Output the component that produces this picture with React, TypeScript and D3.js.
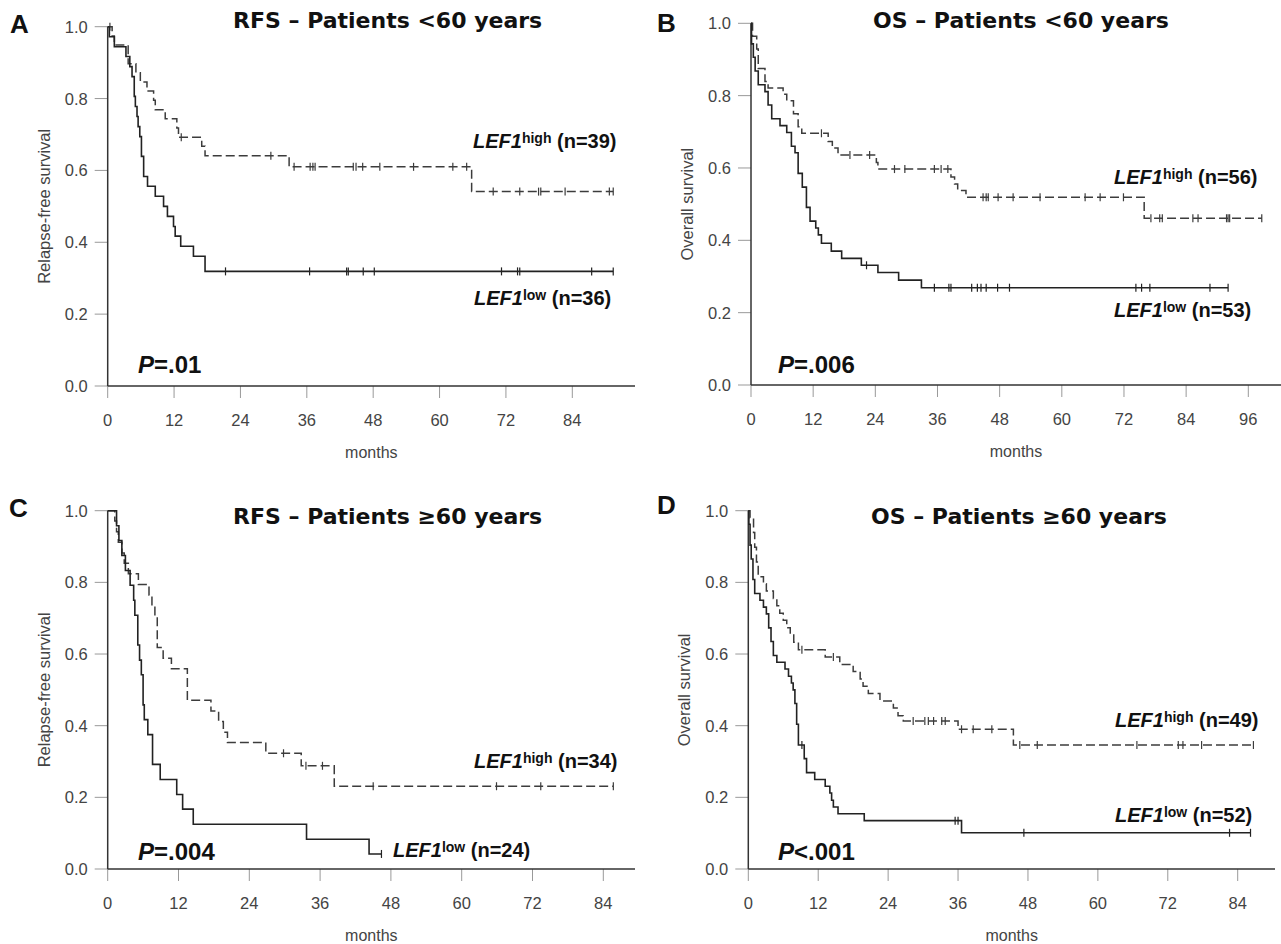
import React, { useEffect, useRef } from 'react';
import * as d3 from 'd3';

// axis ticks
const yTicks = [0, 0.2, 0.4, 0.6, 0.8, 1.0];
const xTicks84 = [0, 12, 24, 36, 48, 60, 72, 84];
const xTicks96 = [0, 12, 24, 36, 48, 60, 72, 84, 96];

// A - RFS, patients <60 years
const aHighTimes = [0.8, 1.2, 3.7, 5.1, 5.9, 7.1, 8.3, 8.6, 10.4, 12.5, 12.8, 17.0, 17.6, 32.8, 65.8];
const aHighSurv = [0.974, 0.949, 0.897, 0.872, 0.846, 0.821, 0.795, 0.769, 0.744, 0.718, 0.692, 0.667, 0.641, 0.61, 0.541];
const aHighCens = [0.4, 13.3, 29.5, 33.7, 36.6, 37.1, 37.5, 44.4, 44.9, 46.1, 49.2, 55.3, 62.4, 64.9, 69.7, 74.5, 77.9, 78.3, 82.7, 90.7, 91.4];
const aLowTimes = [0.3, 1.2, 3.3, 4.0, 4.4, 4.8, 5.0, 5.3, 5.5, 5.8, 6.1, 6.5, 7.2, 8.6, 10.1, 10.8, 11.9, 12.2, 13.2, 15.5, 17.6];
const aLowSurv = [0.972, 0.944, 0.917, 0.889, 0.861, 0.806, 0.778, 0.75, 0.722, 0.694, 0.639, 0.583, 0.556, 0.528, 0.5, 0.472, 0.444, 0.417, 0.389, 0.361, 0.319];
const aLowCens = [21.3, 36.5, 43.2, 43.5, 46.2, 48.2, 71.2, 74.1, 74.5, 87.5, 91.4];

// B - OS, patients <60 years
const bHighTimes = [0.3, 1.1, 1.4, 2.7, 3.3, 6.2, 6.9, 8.2, 9.1, 9.8, 14.9, 15.7, 16.8, 24.2, 24.5, 38.6, 39.3, 39.9, 41.5, 75.9];
const bHighSurv = [0.964, 0.929, 0.875, 0.839, 0.821, 0.804, 0.786, 0.75, 0.714, 0.696, 0.673, 0.655, 0.636, 0.615, 0.597, 0.575, 0.556, 0.538, 0.519, 0.461];
const bHighCens = [13.6, 19.1, 22.9, 27.7, 29.7, 35.4, 36.7, 38.0, 44.8, 45.4, 45.8, 47.7, 50.6, 55.8, 64.5, 67.4, 71.9, 77.2, 78.9, 79.4, 85.3, 86.3, 91.8, 92.1, 92.4, 98.6];
const bLowTimes = [0.1, 0.45, 0.8, 1.4, 2.7, 3.3, 4.0, 5.6, 6.9, 7.8, 8.5, 9.1, 9.9, 10.7, 11.4, 12.5, 13.0, 13.6, 15.5, 17.5, 21.3, 24.5, 28.5, 32.9];
const bLowSurv = [0.943, 0.906, 0.868, 0.83, 0.811, 0.774, 0.736, 0.717, 0.698, 0.66, 0.642, 0.585, 0.547, 0.491, 0.453, 0.434, 0.415, 0.392, 0.37, 0.35, 0.331, 0.311, 0.29, 0.269];
const bLowCens = [22.3, 35.4, 38.2, 38.6, 42.6, 43.7, 44.4, 45.4, 47.6, 49.9, 74.3, 75.4, 77.0, 88.6, 92.1];

// C - RFS, patients >=60 years
const cHighTimes = [1.2, 1.5, 1.8, 2.4, 2.8, 3.5, 5.2, 7.0, 7.5, 8.0, 8.4, 9.4, 10.8, 13.5, 17.5, 18.8, 19.6, 20.3, 26.8, 32.8, 38.4];
const cHighSurv = [0.971, 0.941, 0.912, 0.882, 0.853, 0.824, 0.794, 0.765, 0.735, 0.706, 0.618, 0.588, 0.559, 0.471, 0.441, 0.412, 0.382, 0.353, 0.323, 0.288, 0.231];
const cHighCens = [29.8, 33.6, 36.4, 45.0, 65.9, 73.4, 85.7];
const cLowTimes = [1.5, 1.9, 2.4, 3.0, 3.8, 4.4, 4.6, 5.1, 5.4, 5.7, 6.0, 6.2, 6.8, 7.6, 8.9, 11.7, 12.7, 14.5, 33.7, 44.3];
const cLowSurv = [0.958, 0.917, 0.875, 0.833, 0.792, 0.75, 0.708, 0.625, 0.583, 0.542, 0.458, 0.417, 0.375, 0.292, 0.25, 0.208, 0.167, 0.125, 0.083, 0.042];
const cLowCens = [46.4];

// D - OS, patients >=60 years
const dHighTimes = [0.3, 0.9, 1.1, 1.4, 1.7, 2.6, 3.1, 4.3, 4.9, 5.4, 6.0, 6.6, 7.2, 7.8, 8.6, 13.2, 15.7, 18.0, 19.2, 19.7, 20.6, 22.6, 24.9, 25.7, 26.6, 36.0, 45.5];
const dHighSurv = [0.98, 0.939, 0.898, 0.857, 0.816, 0.796, 0.776, 0.755, 0.735, 0.714, 0.694, 0.673, 0.653, 0.633, 0.612, 0.592, 0.571, 0.551, 0.53, 0.51, 0.49, 0.469, 0.449, 0.428, 0.413, 0.39, 0.346];
const dHighCens = [9.2, 14.6, 28.3, 30.3, 30.9, 31.8, 33.2, 33.8, 36.6, 38.6, 41.8, 46.6, 49.6, 66.7, 73.8, 74.6, 77.8, 86.7];
const dLowTimes = [0.1, 0.3, 0.5, 0.8, 1.1, 2.0, 2.6, 3.1, 3.5, 3.9, 4.3, 4.9, 6.3, 6.9, 7.4, 7.7, 8.0, 8.3, 8.6, 9.6, 10.0, 11.4, 13.2, 14.0, 14.3, 14.6, 15.4, 19.9, 36.6];
const dLowSurv = [0.962, 0.904, 0.865, 0.808, 0.769, 0.75, 0.731, 0.712, 0.673, 0.635, 0.596, 0.577, 0.558, 0.538, 0.519, 0.5, 0.462, 0.404, 0.346, 0.308, 0.269, 0.25, 0.231, 0.212, 0.192, 0.173, 0.154, 0.135, 0.101];
const dLowCens = [9.2, 35.5, 36.0, 47.3, 82.6, 86.2];

const SANS = '"Liberation Sans", Arial, Helvetica, sans-serif';

const panels = [
  {
    letter: 'A', title: 'RFS \u2013 Patients <60 years', yLabel: 'Relapse-free survival', pText: '=.01',
    x0: 107.7, xLast: 572.3, axisEnd: 635, yTop: 26.7, yBot: 386, ticks: xTicks84,
    letterPos: [10, 33], titlePos: [233, 28], pPos: [138, 373],
    high: { times: aHighTimes, surv: aHighSurv, cens: aHighCens, n: 39, pos: [473, 148] },
    low: { times: aLowTimes, surv: aLowSurv, cens: aLowCens, n: 36, pos: [474, 305] },
  },
  {
    letter: 'B', title: 'OS \u2013 Patients <60 years', yLabel: 'Overall survival', pText: '=.006',
    x0: 751, xLast: 1248.3, axisEnd: 1281, yTop: 23.3, yBot: 385, ticks: xTicks96,
    letterPos: [657, 32], titlePos: [873, 28], pPos: [778, 373],
    high: { times: bHighTimes, surv: bHighSurv, cens: bHighCens, n: 56, pos: [1114, 184] },
    low: { times: bLowTimes, surv: bLowSurv, cens: bLowCens, n: 53, pos: [1114, 317] },
  },
  {
    letter: 'C', title: 'RFS \u2013 Patients \u226560 years', yLabel: 'Relapse-free survival', pText: '=.004',
    x0: 107.7, xLast: 603.3, axisEnd: 635, yTop: 510.7, yBot: 869, ticks: xTicks84,
    letterPos: [9, 517], titlePos: [233, 524], pPos: [138, 860],
    high: { times: cHighTimes, surv: cHighSurv, cens: cHighCens, n: 34, pos: [474, 768] },
    low: { times: cLowTimes, surv: cLowSurv, cens: cLowCens, n: 24, pos: [393, 857] },
  },
  {
    letter: 'D', title: 'OS \u2013 Patients \u226560 years', yLabel: 'Overall survival', pText: '<.001',
    x0: 748.3, xLast: 1237.7, axisEnd: 1275, yTop: 510.7, yBot: 869, ticks: xTicks84,
    letterPos: [657, 514], titlePos: [871, 524], pPos: [778, 860],
    high: { times: dHighTimes, surv: dHighSurv, cens: dHighCens, n: 49, pos: [1115, 727] },
    low: { times: dLowTimes, surv: dLowSurv, cens: dLowCens, n: 52, pos: [1115, 822] },
  },
];

const survAt = (times, surv, t) => {
  let s = 1;
  times.forEach((tt, i) => { if (tt <= t) s = surv[i]; });
  return s;
};

const drawCurve = (g, x, y, curve, dashed) => {
  const { times, surv, cens } = curve;
  const end = Math.max(times[times.length - 1], ...cens);
  const pts = [[0, 1], ...times.map((t, i) => [t, surv[i]]), [end, surv[surv.length - 1]]];
  const color = dashed ? '#3c3c3c' : '#222';

  const line = d3.line().x(d => x(d[0])).y(d => y(d[1])).curve(d3.curveStepAfter);

  g.append('path')
    .attr('d', line(pts))
    .attr('fill', 'none')
    .attr('stroke', color)
    .attr('stroke-width', dashed ? 1.5 : 1.6)
    .attr('stroke-dasharray', dashed ? '9,4' : null);

  // censoring marks
  g.selectAll(null)
    .data(cens)
    .enter()
    .append('line')
    .attr('x1', d => x(d))
    .attr('x2', d => x(d))
    .attr('y1', d => y(survAt(times, surv, d)) - 4)
    .attr('y2', d => y(survAt(times, surv, d)) + 4)
    .attr('stroke', color)
    .attr('stroke-width', 1.2);
};

const drawGroupLabel = (g, pos, sup, n) => {
  const t = g.append('text')
    .attr('x', pos[0])
    .attr('y', pos[1])
    .style('font-family', SANS)
    .style('font-weight', 'bold')
    .style('font-size', '20px')
    .attr('fill', '#111');
  t.append('tspan').style('font-style', 'italic').text('LEF1');
  t.append('tspan').attr('dy', -5).style('font-size', '14px').text(sup);
  t.append('tspan').attr('dy', 5).text(` (n=${n})`);
};

const drawPanel = (svg, p) => {
  const g = svg.append('g');
  const x = d3.scaleLinear().domain([0, p.ticks[p.ticks.length - 1]]).range([p.x0, p.xLast]);
  const y = d3.scaleLinear().domain([0, 1]).range([p.yBot, p.yTop]);

  // y ticks + labels
  g.selectAll(null).data(yTicks).enter().append('line')
    .attr('x1', p.x0 - 13).attr('x2', p.x0)
    .attr('y1', d => y(d)).attr('y2', d => y(d))
    .attr('stroke', '#999').attr('stroke-width', 1);
  g.selectAll(null).data(yTicks).enter().append('text')
    .attr('x', p.x0 - 20).attr('y', d => y(d)).attr('dy', '0.36em')
    .attr('text-anchor', 'end')
    .style('font-family', SANS).style('font-size', '16.5px')
    .attr('fill', '#444')
    .text(d => d.toFixed(1));

  // x ticks + labels
  g.selectAll(null).data(p.ticks).enter().append('line')
    .attr('x1', d => x(d)).attr('x2', d => x(d))
    .attr('y1', p.yBot).attr('y2', p.yBot + 12)
    .attr('stroke', '#999').attr('stroke-width', 1);
  g.selectAll(null).data(p.ticks).enter().append('text')
    .attr('x', d => x(d)).attr('y', p.yBot + 40)
    .attr('text-anchor', 'middle')
    .style('font-family', SANS).style('font-size', '16.5px')
    .attr('fill', '#444')
    .text(d => d);

  // axis lines
  g.append('line')
    .attr('x1', p.x0).attr('x2', p.x0).attr('y1', p.yTop).attr('y2', p.yBot)
    .attr('stroke', '#333').attr('stroke-width', 1.5);
  g.append('line')
    .attr('x1', p.x0).attr('x2', p.axisEnd).attr('y1', p.yBot).attr('y2', p.yBot)
    .attr('stroke', '#333').attr('stroke-width', 1.5);

  // axis titles
  g.append('text')
    .attr('x', (p.x0 + p.axisEnd) / 2).attr('y', p.yBot + 72)
    .attr('text-anchor', 'middle')
    .style('font-family', SANS).style('font-size', '16px')
    .attr('fill', '#444')
    .text('months');
  g.append('text')
    .attr('transform', `translate(${p.x0 - 58},${(p.yTop + p.yBot) / 2}) rotate(-90)`)
    .attr('text-anchor', 'middle')
    .style('font-family', SANS).style('font-size', '16.5px')
    .attr('fill', '#444')
    .text(p.yLabel);

  // curves
  drawCurve(g, x, y, p.high, true);
  drawCurve(g, x, y, p.low, false);

  // panel letter and title
  g.append('text')
    .attr('x', p.letterPos[0]).attr('y', p.letterPos[1])
    .style('font-family', SANS).style('font-weight', 'bold').style('font-size', '26px')
    .attr('fill', '#111')
    .text(p.letter);
  g.append('text')
    .attr('x', p.titlePos[0]).attr('y', p.titlePos[1])
    .style('font-family', '"DejaVu Sans", sans-serif').style('font-weight', 'bold').style('font-size', '22px')
    .attr('fill', '#111')
    .text(p.title);

  // P value
  const pt = g.append('text')
    .attr('x', p.pPos[0]).attr('y', p.pPos[1])
    .style('font-family', SANS).style('font-weight', 'bold').style('font-size', '24px')
    .attr('fill', '#111');
  pt.append('tspan').style('font-style', 'italic').text('P');
  pt.append('tspan').text(p.pText);

  drawGroupLabel(g, p.high.pos, 'high', p.high.n);
  drawGroupLabel(g, p.low.pos, 'low', p.low.n);
};

const App = () => {
  const svgRef = useRef(null);

  useEffect(() => {
    const svg = d3.select(svgRef.current);
    svg.selectAll('*').remove();
    panels.forEach(p => drawPanel(svg, p));
  }, []);

  return (
    <svg
      ref={svgRef}
      width={1281}
      height={944}
      style={{ position: 'absolute', left: 0, top: 0, background: '#fff' }}
    />
  );
};

export default App;
